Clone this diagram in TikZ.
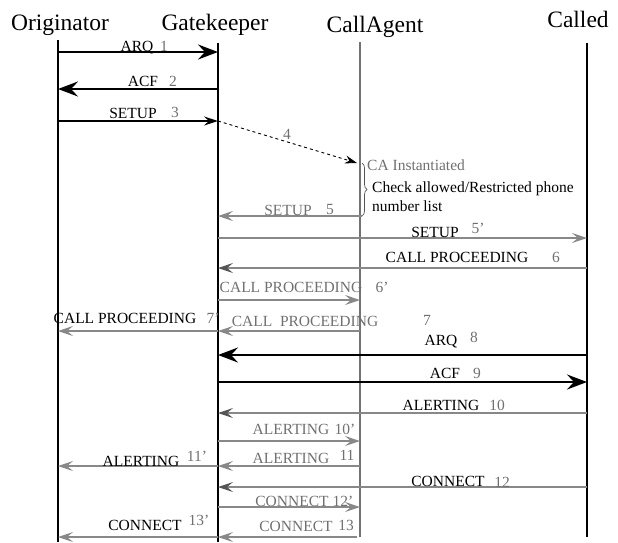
\documentclass[tikz,border=0pt]{standalone}
\usepackage{fontspec}
\setmainfont{Liberation Serif}
\usetikzlibrary{arrows.meta,decorations.pathreplacing}
\definecolor{lgray}{HTML}{888888}
\definecolor{tgray}{HTML}{707070}
\definecolor{dgray}{HTML}{555555}
\definecolor{agray}{HTML}{737373}
\tikzset{
  life/.style={line width=2.6pt},
  title/.style={anchor=base,inner sep=0pt,font=\fontsize{23.5}{26}\selectfont},
  lbl/.style={anchor=base,inner sep=0pt,font=\fontsize{15.5}{18}\selectfont},
  glbl/.style={lbl,text=tgray},
  num/.style={lbl,text=tgray},
  bigmsg/.style={line width=2.6pt,-{Stealth[length=20pt,width=15pt,inset=7pt]}},
  thinmsg/.style={line width=1.3pt,-{Stealth[length=14pt,width=9pt,inset=5pt]}},
  graymsg/.style={lgray,line width=1.3pt,-{Stealth[length=15pt,width=10pt,inset=6pt]}},
  darkgraymsg/.style={lgray,line width=1.3pt,-{Stealth[length=15pt,width=10pt,inset=6pt,color=dgray]}},
}
\begin{document}
\begin{tikzpicture}[x=1pt,y=-1pt]
\useasboundingbox (0,0) rectangle (618,542);
% titles
\node[title] (tO) at (60,30) {Originator};
\node[title] (tG) at (215,30) {Gatekeeper};
\node[title] (tA) at (375,32) {CallAgent};
\node[title] (tC) at (578,27) {Called};
% lifelines
\coordinate (O) at (58,40);  \coordinate (Ob) at (58,542);
\coordinate (G) at (218,43); \coordinate (Gb) at (218,542);
\coordinate (A) at (360,42); \coordinate (Ab) at (360,537);
\coordinate (C) at (587,43); \coordinate (Cb) at (587,537);
\draw[life] (O) -- (Ob);
\draw[life] (G) -- (Gb);
\draw[life,agray] (A) -- (Ab);
\draw[life] (C) -- (Cb);
% rows
\coordinate (r1) at (0,52);
\coordinate (r2) at (0,89);
\coordinate (r3) at (0,121);
\coordinate (r5) at (0,216);
\coordinate (r5p) at (0,238);
\coordinate (r6) at (0,268);
\coordinate (r6p) at (0,300);
\coordinate (r7) at (0,331);
\coordinate (r8) at (0,355);
\coordinate (r9) at (0,382);
\coordinate (r10) at (0,413);
\coordinate (r10p) at (0,441);
\coordinate (r11) at (0,466);
\coordinate (r12) at (0,487);
\coordinate (r12p) at (0,507);
\coordinate (r13) at (0,537);
% brace / CA box
\coordinate (bt) at (362,163);
\coordinate (bb) at (362,216);
\coordinate (e13) at (357,537);
% messages
\draw[bigmsg] (O|-r1) -- (G|-r1);
\draw[bigmsg] (G|-r2) -- (O|-r2);
\draw[thinmsg] (O|-r3) -- (G|-r3);
\draw[dashed,line width=0.9pt,-{Stealth[length=12pt,width=8pt,inset=4pt]}] (G|-r3) -- (357,163);
\draw[graymsg] (bb) -- (G|-r5);
\draw[graymsg] (G|-r5p) -- (C|-r5p);
\draw[darkgraymsg] (C|-r6) -- (G|-r6);
\draw[graymsg] (G|-r6p) -- (A|-r6p);
\draw[graymsg] (A|-r7) -- (G|-r7);
\draw[graymsg] (G|-r7) -- (O|-r7);
\draw[bigmsg] (C|-r8) -- (G|-r8);
\draw[bigmsg] (G|-r9) -- (C|-r9);
\draw[darkgraymsg] (C|-r10) -- (G|-r10);
\draw[graymsg] (G|-r10p) -- (A|-r10p);
\draw[graymsg] (A|-r11) -- (G|-r11);
\draw[graymsg] (G|-r11) -- (O|-r11);
\draw[darkgraymsg] (C|-r12) -- (G|-r12);
\draw[graymsg] (G|-r12p) -- (A|-r12p);
\draw[graymsg] (e13) -- (G|-r13);
\draw[graymsg] (G|-r13) -- (O|-r13);
% brace
\draw[line width=0.7pt,dgray,decorate,decoration={brace,amplitude=5pt}] (bt) -- (bb);
\node[anchor=west,inner sep=0pt,text=tgray,font=\fontsize{15.5}{18}\selectfont] (ca) at (367,165) {CA Instantiated};
\node[anchor=north west,inner sep=0pt,align=left,font=\fontsize{15.5}{19}\selectfont] (chk) at (372,182) {Check allowed/Restricted phone\\number list};
% labels
\node[lbl] (l1) at (137,51) {ARQ};   \node[num] (n1) at (164,51) {1};
\node[lbl] (l2) at (143,86) {ACF};   \node[num] (n2) at (173,86) {2};
\node[lbl] (l3) at (133,118) {SETUP}; \node[num] (n3) at (175,117) {3};
\node[num] (n4) at (287,139) {4};
\node[glbl] (l5) at (288,215) {SETUP}; \node[num] (n5) at (330,214) {5};
\node[lbl] (l5p) at (435,237) {SETUP}; \node[num] (n5p) at (478,233) {5’};
\node[lbl] (l6) at (457,262) {CALL PROCEEDING}; \node[num] (n6) at (556,262) {6};
\node[glbl] (l6p) at (291,292) {CALL PROCEEDING}; \node[num] (n6p) at (382,292) {6’};
\node[glbl] (l7) at (305,326) {CALL\ \ PROCEEDING}; \node[num] (n7) at (427,325) {7};
\node[lbl] (l7p) at (125,323) {CALL PROCEEDING}; \node[num] (n7p) at (213,323) {7’};
\node[lbl] (l8) at (441,345) {ARQ}; \node[num] (n8) at (474,342) {8};
\node[lbl] (l9) at (445,378) {ACF}; \node[num] (n9) at (477,378) {9};
\node[lbl] (l10) at (441,410) {ALERTING}; \node[num] (n10) at (497,410) {10};
\node[glbl] (l10p) at (291,434) {ALERTING}; \node[num] (n10p) at (345,434) {10’};
\node[glbl] (l11) at (291,463) {ALERTING}; \node[num] (n11) at (347,460) {11};
\node[lbl] (l11p) at (141,466) {ALERTING}; \node[num] (n11p) at (197,461) {11’};
\node[lbl] (l12) at (448,486) {CONNECT}; \node[num] (n12) at (502,487) {12};
\node[glbl] (l12p) at (292,506) {CONNECT}; \node[num] (n12p) at (343,506) {12’};
\node[glbl] (l13) at (296,531) {CONNECT}; \node[num] (n13) at (346,530) {13};
\node[lbl] (l13p) at (145,530) {CONNECT}; \node[num] (n13p) at (199,525) {13’};
\end{tikzpicture}
\end{document}
